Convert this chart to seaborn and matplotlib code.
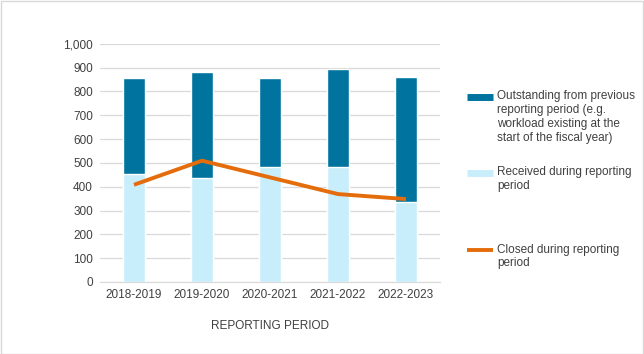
import numpy as np
import pandas as pd
import matplotlib.pyplot as plt
import seaborn as sns
from matplotlib.lines import Line2D

# values
periods = ["2018-2019", "2019-2020", "2020-2021", "2021-2022", "2022-2023"]
received = [453, 436, 484, 482, 336]
outstanding = [401, 444, 370, 411, 523]
closed = [408, 509, 439, 369, 348]

dark = "#00749E"
light = "#C9EEFB"
orange = "#E46C0A"
txt = "#404040"

sns.set_style("white")
plt.rcParams["font.family"] = ["Liberation Sans", "DejaVu Sans"]

data = pd.DataFrame({"period": periods, "received": received, "outstanding": outstanding, "closed": closed})
data["total"] = data["received"] + data["outstanding"]

fig = plt.figure(figsize=(6.44, 3.54), dpi=100)
ax = fig.add_axes([100 / 644, 1 - 282 / 354, 340 / 644, 238.3 / 354])

sns.barplot(x="period", y="total", data=data, color=dark, width=0.32, saturation=1, ax=ax)
sns.barplot(x="period", y="received", data=data, color=light, width=0.32, saturation=1, ax=ax)
ax.plot(range(len(periods)), data["closed"], color=orange, lw=2.8, solid_capstyle="butt", zorder=5)

ax.set_ylim(0, 1000)
ax.set_yticks(range(0, 1001, 100))
ax.set_yticklabels([f"{v:,}" for v in range(0, 1001, 100)])
ax.set_xlim(-0.5, 4.5)
ax.yaxis.grid(True, color="#D9D9D9", lw=0.9)
ax.set_axisbelow(True)
for s in ["top", "right", "left"]:
    ax.spines[s].set_visible(False)
ax.spines["bottom"].set_color("#D9D9D9")
ax.tick_params(axis="both", length=0, labelsize=8.5, labelcolor=txt, pad=5)
ax.set_xlabel("REPORTING PERIOD", fontsize=8.5, color=txt, labelpad=14)
ax.set_ylabel("")

# legend drawn by hand: handle sits beside first line of each label
legend_items = [
    (dark, 5, "Outstanding from previous\nreporting period (e.g.\nworkload existing at the\nstart of the fiscal year)", 97),
    (light, 5, "Received during reporting\nperiod", 173),
    (orange, 2.8, "Closed during reporting\nperiod", 250),
]
for color, lw, label, ypix in legend_items:
    yf = 1 - ypix / 354
    fig.add_artist(Line2D([467 / 644, 493 / 644], [yf, yf], color=color, lw=lw,
                          solid_capstyle="butt", transform=fig.transFigure))
    fig.text(497 / 644, yf + 6.5 / 354, label, fontsize=8.5, color=txt, va="top", ha="left",
             linespacing=1.22)

fig.patches.append(plt.Rectangle((0.001, 0.001), 0.997, 0.996, transform=fig.transFigure,
                                 fill=False, edgecolor="#D9D9D9", lw=1))

plt.savefig("out.png", dpi=100)
